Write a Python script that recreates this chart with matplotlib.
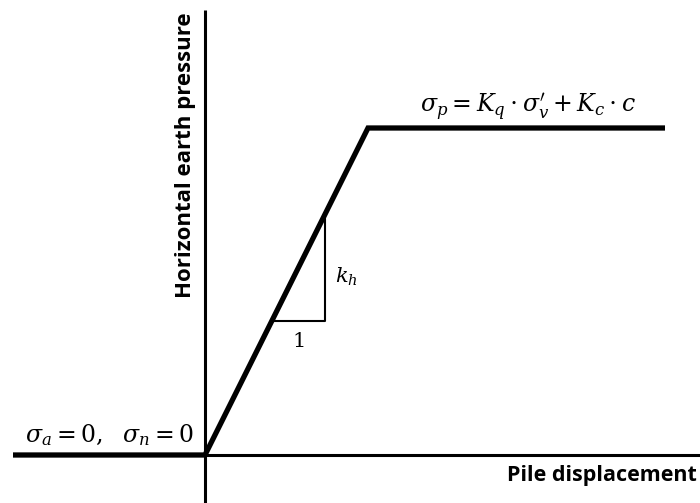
import matplotlib.pyplot as plt

plt.rcParams['mathtext.fontset'] = 'dejavuserif'

# elasto-plastic p-y law: zero pressure for negative displacement,
# linear up to the passive limit, then constant
displacement = [-1.92, 0.0, 1.63, 4.60]
pressure = [0.0, 0.0, 3.27, 3.27]

# slope triangle: horizontal leg from the curve to tri_x1
tri_y0 = 1.34
tri_x1 = 1.20

fig = plt.figure(figsize=(7, 5.03), dpi=100)
ax = fig.add_axes([0, 0, 1, 1])
ax.set_xlim(-2.05, 4.95)
ax.set_ylim(-0.48, 4.55)
ax.axis('off')

# axes drawn as plain lines through the origin
ax.plot([0, 0], [-0.48, 4.45], color='black', lw=2.2, solid_capstyle='butt')
ax.plot([0, 4.95], [0, 0], color='black', lw=2.2, solid_capstyle='butt')

ax.plot(displacement, pressure, color='black', lw=3.8, solid_joinstyle='miter',
        solid_capstyle='butt')

slope = (pressure[2] - pressure[1]) / (displacement[2] - displacement[1])
tri_x0 = tri_y0 / slope
tri_y1 = tri_x1 * slope
ax.plot([tri_x0, tri_x1, tri_x1], [tri_y0, tri_y0, tri_y1], color='black', lw=1.5)

ax.text((tri_x0 + tri_x1) / 2, 1.08, r'$1$', fontsize=15,
        ha='center', va='baseline')
ax.text(tri_x1 + 0.10, 1.72, r'$k_h$', fontsize=15, ha='left', va='baseline')

ax.text(3.23, 3.42, r"$\sigma_p = K_q \cdot \sigma_v' + K_c \cdot c$",
        fontsize=17, ha='center', va='baseline')
ax.text(-1.80, 0.13, r'$\sigma_a = 0,\ \ \sigma_n = 0$', fontsize=17,
        ha='left', va='baseline')

ax.text(4.92, -0.26, 'Pile displacement', fontsize=15.5, fontweight='bold',
        family='Open Sans', ha='right', va='baseline')
ax.text(-0.19, 4.43, 'Horizontal earth pressure', fontsize=16, fontweight='bold',
        family='Open Sans', rotation=90, ha='center', va='top')

fig.savefig('out.png', dpi=100)
